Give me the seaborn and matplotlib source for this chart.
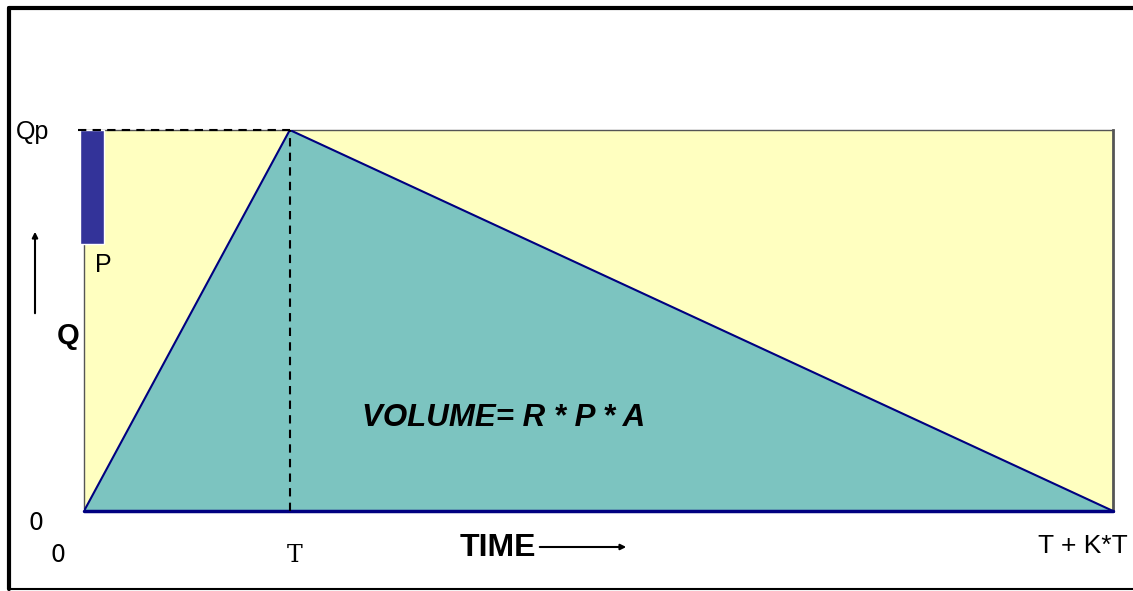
import matplotlib
matplotlib.use("Agg")
import matplotlib.pyplot as plt
import seaborn as sns
import pandas as pd
from matplotlib.lines import Line2D
from matplotlib.patches import FancyArrowPatch

# hydrograph: time in units of T, flow in units of Qp
time_pts = [0.0, 1.0, 5.0]
flow_pts = [0.0, 1.0, 0.0]
rain_start, rain_end = -0.02, 0.097
rain_depth = 0.30  # bar drawn down from Qp
t_end = 5.0

sns.set_style("white")
plt.rcParams['font.family'] = ['Liberation Sans', 'DejaVu Sans']
plt.rcParams['text.color'] = 'black'

W, H = 1133, 591
fig = plt.figure(figsize=(W / 100, H / 100), dpi=100)
ax = fig.add_axes([84 / W, (H - 511) / H, 1029 / W, 381 / H])
ax.set_facecolor('#ffffc0')
ax.set_xlim(0, t_end)
ax.set_ylim(0, 1)
for s in ax.spines.values():
    s.set_color('#555555')
    s.set_linewidth(1)
ax.spines['right'].set_linewidth(2)
ax.set_xticks([])
ax.set_yticks([])

df = pd.DataFrame({'time': time_pts, 'flow': flow_pts})
ax.fill_between(df['time'], df['flow'], color='#7cc4c0', zorder=2)
sns.lineplot(data=df, x='time', y='flow', color='#000080', lw=1.5, ax=ax, zorder=3)
ax.plot([0, t_end], [0, 0], color='#000080', lw=2.5, zorder=3, clip_on=False)
ax.set_xlabel('')
ax.set_ylabel('')

# rainfall bar
ax.bar(rain_start, rain_depth, bottom=1 - rain_depth, width=rain_end - rain_start,
       align='edge', color='#333399', zorder=4, clip_on=False)

# dashed guide lines to the peak
ax.plot([-0.03, 1.0], [1, 1], color='black', ls='--', lw=1.5, dashes=(4, 3), zorder=5, clip_on=False)
ax.plot([1.0, 1.0], [0, 1], color='black', ls='--', lw=1.5, dashes=(4, 3), zorder=5)

# labels
def ftext(x, y, s, **kw):
    fig.text(x / W, 1 - y / H, s, color='black', **kw)

ftext(16, 132, 'Qp', fontsize=18, va='center', ha='left')
ftext(95, 265, 'P', fontsize=18, va='center', ha='left')
ftext(57, 336, 'Q', fontsize=21, fontweight='bold', va='center', ha='left')
ftext(28, 523, '0', fontsize=17, va='center', ha='left', family='DejaVu Sans')
ftext(50, 555, '0', fontsize=17, va='center', ha='left', family='DejaVu Sans')
ftext(295, 555, 'T', fontsize=17, va='center', ha='center', family='DejaVu Serif')
ftext(460, 548, 'TIME', fontsize=23, fontweight='bold', va='center', ha='left')
ftext(1128, 546, 'T + K*T', fontsize=19, va='center', ha='right')
ftext(362, 418, 'VOLUME= R * P * A', fontsize=22.5, fontweight='bold', fontstyle='italic',
      va='center', ha='left')

# arrows
fig.add_artist(FancyArrowPatch((35 / W, 1 - 316 / H), (35 / W, 1 - 229 / H),
               transform=fig.transFigure, arrowstyle='-|>', mutation_scale=8, color='black', lw=1.5))
fig.add_artist(FancyArrowPatch((537 / W, 1 - 547 / H), (629 / W, 1 - 547 / H),
               transform=fig.transFigure, arrowstyle='-|>', mutation_scale=8, color='black', lw=1.5))

# outer frame
fig.add_artist(Line2D([9 / W, 1], [1 - 8 / H, 1 - 8 / H], color='black', lw=3))
fig.add_artist(Line2D([9 / W, 9 / W], [1 - 8 / H, 1 - 589 / H], color='black', lw=3))
fig.add_artist(Line2D([9 / W, 1], [1 - 589 / H, 1 - 589 / H], color='black', lw=1.5))

fig.savefig('out.png', dpi=100)
